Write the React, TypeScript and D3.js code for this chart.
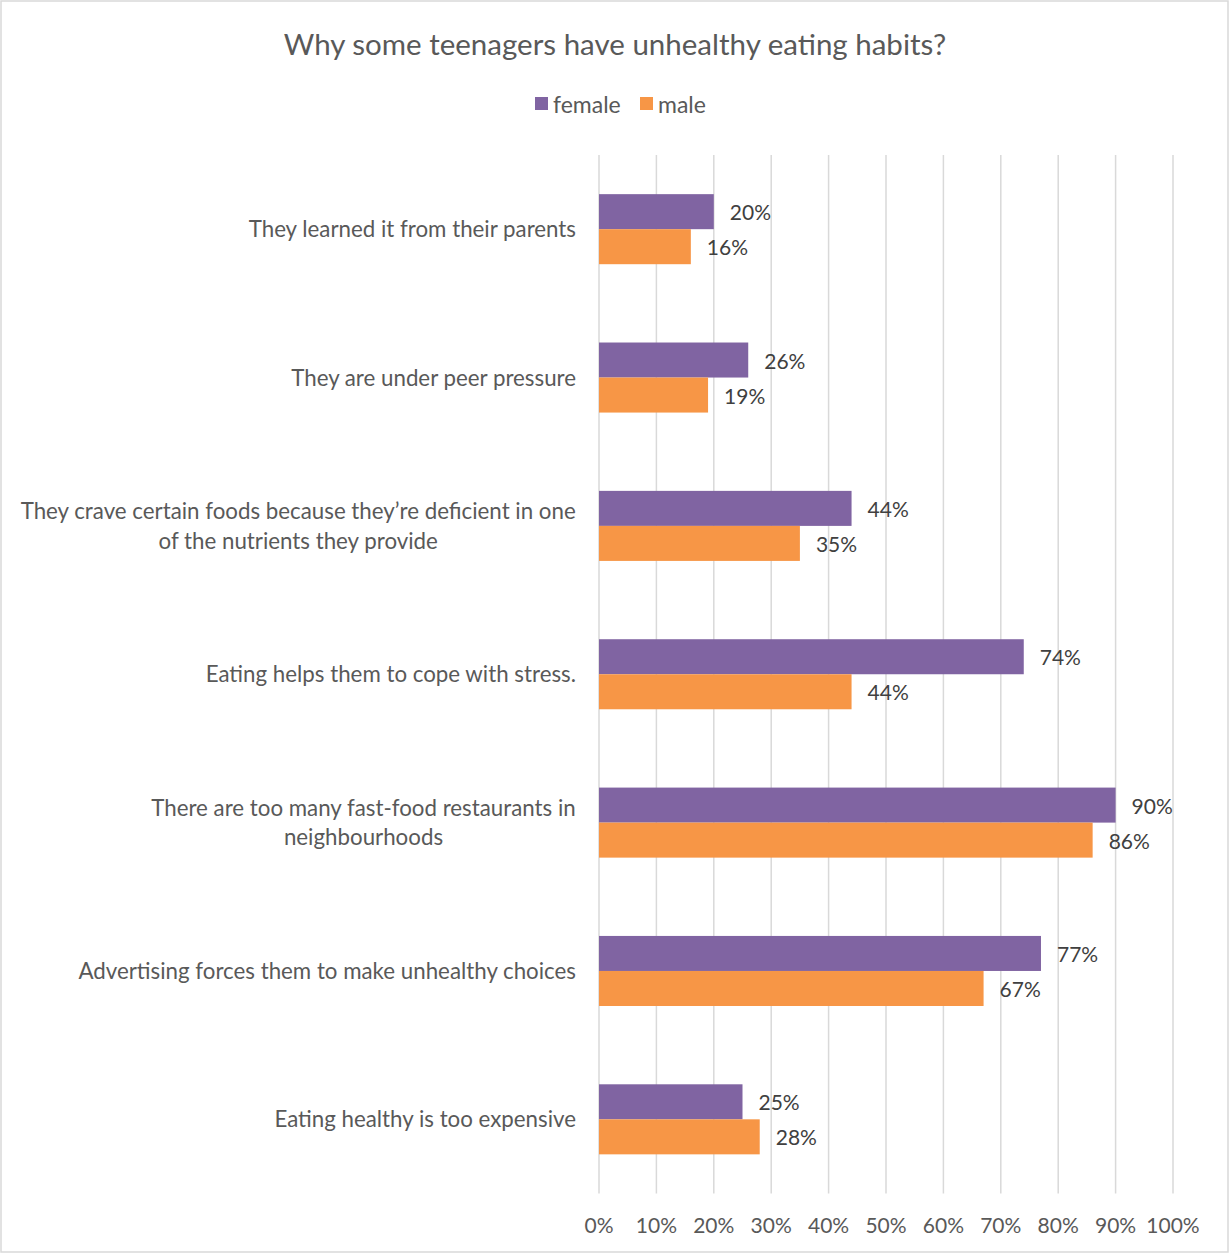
import React from "react";
import * as d3 from "d3";

const categories = [
  ["They learned it from their parents"],
  ["They are under peer pressure"],
  ["They crave certain foods because they’re deficient in one", "of the nutrients they provide"],
  ["Eating helps them to cope with stress."],
  ["There are too many fast-food restaurants in", "neighbourhoods"],
  ["Advertising forces them to make unhealthy choices"],
  ["Eating healthy is too expensive"],
];
const female = [0.2, 0.26, 0.44, 0.74, 0.9, 0.77, 0.25];
const male = [0.16, 0.19, 0.35, 0.44, 0.86, 0.67, 0.28];
const seriesNames = ["female", "male"];
const seriesColors = ["#8064A2", "#F79646"];
const ticks = [0, 0.1, 0.2, 0.3, 0.4, 0.5, 0.6, 0.7, 0.8, 0.9, 1.0];

const W = 1229;
const H = 1253;
const FONT = "Lato, 'Open Sans', sans-serif";
const LABEL_SIZE = 22.3;

let ctx: CanvasRenderingContext2D | null = null;
function measure(text: string, size: number): number {
  if (!ctx) ctx = document.createElement("canvas").getContext("2d");
  if (!ctx) return text.length * size * 0.5;
  ctx.font = `${size}px Lato`;
  return ctx.measureText(text).width;
}

export default function App() {
  const x = d3.scaleLinear().domain([0, 1]).range([599, 1173]);
  const idx = categories.map((_, i) => String(i));
  const y = d3.scaleBand().domain(idx).range([155, 1193.5]).padding(0);
  const sub = d3
    .scaleBand()
    .domain(seriesNames)
    .range([0, y.bandwidth()])
    .paddingInner(0)
    .paddingOuter(1.118);
  const series = [female, male];
  const fmt = d3.format(".0%");

  return (
    <div style={{ position: "absolute", left: 0, top: 0 }}>
      <svg width={W} height={H} style={{ display: "block", fontFamily: FONT }}>
        <rect x={0} y={0} width={W} height={H} fill="#fff" />
        <rect x={1} y={1} width={W - 2} height={H - 2} fill="none" stroke="#d9d9d9" strokeWidth={1.5} />
        <text x={615} y={43} textAnchor="middle" dominantBaseline="central" fontSize={29.5} fill="#595959">
          Why some teenagers have unhealthy eating habits?
        </text>
        {/* legend */}
        {seriesNames.map((s, i) => {
          const lx = i === 0 ? 535 : 640;
          return (
            <g key={s}>
              <rect x={lx} y={97} width={13} height={13} fill={seriesColors[i]} />
              <text x={lx + 18} y={103.5} dominantBaseline="central" fontSize={23} fill="#595959">
                {s}
              </text>
            </g>
          );
        })}
        {/* gridlines */}
        {ticks.map((t) => (
          <line key={t} x1={x(t)} x2={x(t)} y1={155} y2={1193.5} stroke="#d9d9d9" strokeWidth={1.5} />
        ))}
        {/* tick labels */}
        {ticks.map((t) => (
          <text key={"t" + t} x={x(t)} y={1224.5} textAnchor="middle" dominantBaseline="central" fontSize={21} fill="#595959">
            {fmt(t)}
          </text>
        ))}
        {/* bars */}
        {categories.map((c, i) => {
          const by = y(String(i))!;
          const maxW = d3.max(c, (l) => measure(l, LABEL_SIZE)) || 0;
          const cx = 576 - maxW / 2;
          return (
            <g key={i}>
              {series.map((vals, si) => {
                const yy = by + sub(seriesNames[si])!;
                const h = sub.bandwidth();
                return (
                  <g key={si}>
                    <rect x={x(0)} y={yy} width={x(vals[i]) - x(0)} height={h} fill={seriesColors[si]} />
                    <text x={x(vals[i]) + 16} y={yy + h / 2} dominantBaseline="central" fontSize={21} fill="#404040">
                      {fmt(vals[i])}
                    </text>
                  </g>
                );
              })}
              {c.map((line, li) => (
                <text
                  key={li}
                  x={c.length > 1 ? cx : 576}
                  y={by + y.bandwidth() / 2 - 0.5 + (li - (c.length - 1) / 2) * 29.5}
                  textAnchor={c.length > 1 ? "middle" : "end"}
                  dominantBaseline="central"
                  fontSize={LABEL_SIZE}
                  fill="#595959"
                >
                  {line}
                </text>
              ))}
            </g>
          );
        })}
      </svg>
    </div>
  );
}
